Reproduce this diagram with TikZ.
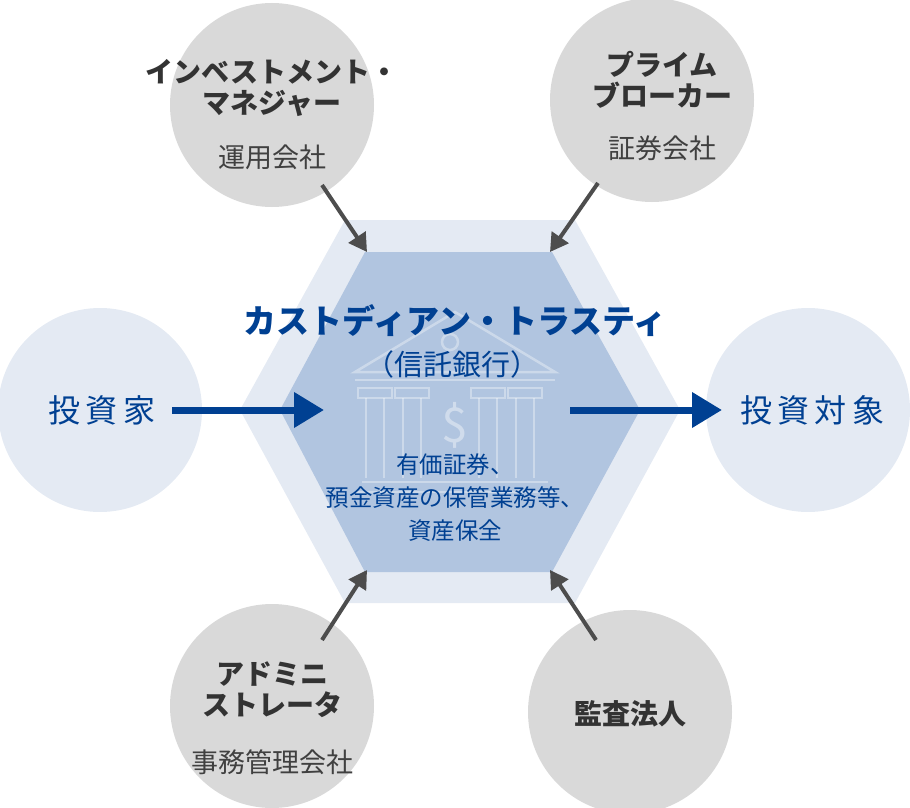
\documentclass[tikz,border=0pt]{standalone}
\usepackage{fontspec}
\setmainfont{Noto Sans CJK JP}
\usetikzlibrary{arrows.meta}
\definecolor{gcirc}{HTML}{D9D9D9}
\definecolor{bcirc}{HTML}{E4EAF3}
\definecolor{hexo}{HTML}{E4EAF3}
\definecolor{hexi}{HTML}{B1C5E0}
\definecolor{dblue}{HTML}{004092}
\definecolor{dgray}{HTML}{4D4D4D}
\begin{document}
\begin{tikzpicture}[x=1pt,y=-1pt,
  gc/.style={circle,fill=gcirc,minimum size=204pt,inner sep=0pt},
  bc/.style={circle,fill=bcirc,minimum size=204pt,inner sep=0pt},
  ttl/.style={font=\fontsize{28}{31}\selectfont\bfseries,text=black!80,align=center},
  sub/.style={font=\fontsize{27}{30}\selectfont,text=black!75},
  garr/.style={draw=dgray,line width=4pt,-{Triangle[length=18pt,width=20pt]}},
  barr/.style={draw=dblue,line width=7pt,-{Triangle[length=30pt,width=34pt]}},
  icon/.style={draw=white,opacity=0.35,line width=2.5pt}]
\useasboundingbox (0,0) rectangle (910,808);
% circles
\node[gc] (im) at (272,105) {};
\node[gc] (pb) at (652,100) {};
\node[bc] (inv) at (100,410) {};
\node[bc] (tgt) at (808,410) {};
\node[gc] (ad) at (272,706) {};
\node[gc] (au) at (630,712) {};
% hexagons
\fill[hexo] (345,220) -- (575,220) -- (680,410) -- (575,603) -- (345,603) -- (240,410) -- cycle;
\fill[hexi] (365,252) -- (552,252) -- (640,410) -- (552,572) -- (365,572) -- (280,410) -- cycle;
% bank icon
\draw[icon] (355,372) -- (455,312) -- (555,372) -- cycle;
\draw[icon] (355,380) -- (555,380);
\draw[icon] (450,342) circle (8);
\foreach \cx in {375,412,488,525}{
  \draw[icon] (\cx-17,388) rectangle (\cx+17,398);
  \draw[icon] (\cx-9,398) -- (\cx-9,478) (\cx+9,398) -- (\cx+9,478);
}
\draw[icon] (362,482) -- (548,482) (355,492) -- (555,492);
\node[font=\fontsize{48}{48}\selectfont,text=white,opacity=0.4] (dol) at (455,425) {\$};
% texts
\node[ttl] (imt) at (272,88) {インベストメント・\\マネジャー};
\node[sub] (ims) at (272,157) {運用会社};
\node[ttl] (pbt) at (662,80) {プライム\\ブローカー};
\node[sub] (pbs) at (662,148) {証券会社};
\node[ttl] (adt) at (272,690) {アドミニ\\ストレータ};
\node[sub] (ads) at (272,762) {事務管理会社};
\node[ttl] (aut) at (630,714) {監査法人};
\node[font=\fontsize{32}{32}\selectfont,text=dblue] (invt) at (102,410) {投\,資\,家};
\node[font=\fontsize{32}{32}\selectfont,text=dblue] (tgtt) at (812,410) {投\,資\,対\,象};
\node[font=\fontsize{33}{34}\selectfont\bfseries,text=dblue] (ct) at (455,321) {カストディアン・トラスティ};
\node[font=\fontsize{29}{30}\selectfont,text=dblue] (cs) at (452,364) {（信託銀行）};
\node[font=\fontsize{23.5}{33}\selectfont,text=dblue,align=center] (cd) at (455,498) {有価証券、\\預金資産の保管業務等、\\資産保全};
% arrows
\coordinate (a1) at (322,185); \coordinate (a1e) at (367,252);
\coordinate (a2) at (598,183); \coordinate (a2e) at (550,252);
\coordinate (a3) at (322,640); \coordinate (a3e) at (367,570);
\coordinate (a4) at (596,640); \coordinate (a4e) at (550,570);
\draw[garr] (a1) -- (a1e);
\draw[garr] (a2) -- (a2e);
\draw[garr] (a3) -- (a3e);
\draw[garr] (a4) -- (a4e);
\coordinate (b1) at (172,410); \coordinate (b1e) at (324,410);
\coordinate (b2) at (570,410); \coordinate (b2e) at (722,410);
\draw[barr] (b1) -- (b1e);
\draw[barr] (b2) -- (b2e);
\end{tikzpicture}
\end{document}
